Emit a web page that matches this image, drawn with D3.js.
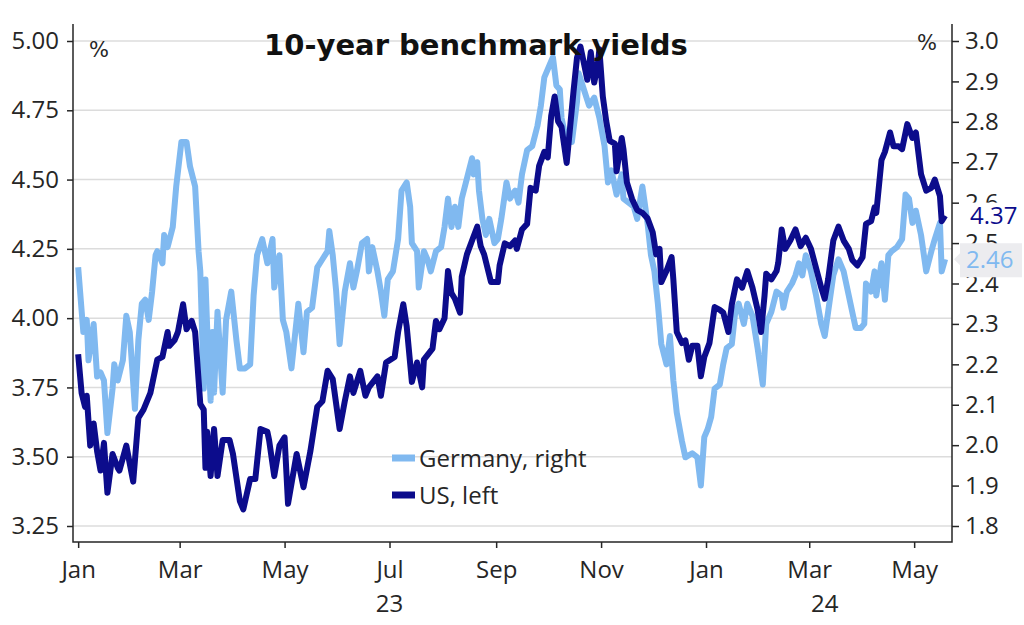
<!DOCTYPE html>
<html>
<head>
<meta charset="utf-8">
<script src="https://cdn.jsdelivr.net/npm/d3@7"></script>
<style>
  body { margin: 0; background: #fff; }
  text { font-family: "Open Sans", sans-serif; }
</style>
</head>
<body>
<svg id="chart" width="1024" height="625"></svg>
<script>
// US 10-year yield, % (left axis)
const usDates = ["2023-01-01","2023-01-03","2023-01-05","2023-01-06","2023-01-08","2023-01-10","2023-01-12","2023-01-14","2023-01-16","2023-01-18","2023-01-21","2023-01-24","2023-01-25","2023-01-29","2023-02-02","2023-02-05","2023-02-08","2023-02-12","2023-02-16","2023-02-19","2023-02-22","2023-02-23","2023-02-26","2023-02-28","2023-03-03","2023-03-05","2023-03-08","2023-03-10","2023-03-13","2023-03-15","2023-03-16","2023-03-17","2023-03-19","2023-03-21","2023-03-23","2023-03-26","2023-03-30","2023-04-01","2023-04-05","2023-04-07","2023-04-11","2023-04-14","2023-04-17","2023-04-21","2023-04-22","2023-04-25","2023-04-28","2023-05-01","2023-05-03","2023-05-08","2023-05-12","2023-05-16","2023-05-20","2023-05-23","2023-05-26","2023-05-29","2023-06-02","2023-06-05","2023-06-08","2023-06-10","2023-06-14","2023-06-17","2023-06-19","2023-06-24","2023-06-26","2023-06-29","2023-07-04","2023-07-06","2023-07-09","2023-07-11","2023-07-14","2023-07-17","2023-07-20","2023-07-21","2023-07-26","2023-07-28","2023-07-30","2023-08-02","2023-08-04","2023-08-06","2023-08-08","2023-08-11","2023-08-12","2023-08-15","2023-08-18","2023-08-21","2023-08-23","2023-08-25","2023-08-29","2023-09-02","2023-09-03","2023-09-06","2023-09-09","2023-09-12","2023-09-13","2023-09-16","2023-09-19","2023-09-21","2023-09-24","2023-09-26","2023-09-29","2023-10-01","2023-10-03","2023-10-05","2023-10-07","2023-10-09","2023-10-12","2023-10-14","2023-10-16","2023-10-18","2023-10-20","2023-10-22","2023-10-24","2023-10-26","2023-10-28","2023-10-30","2023-10-31","2023-11-02","2023-11-04","2023-11-06","2023-11-09","2023-11-10","2023-11-13","2023-11-14","2023-11-16","2023-11-19","2023-11-22","2023-11-25","2023-11-28","2023-12-01","2023-12-03","2023-12-05","2023-12-06","2023-12-09","2023-12-12","2023-12-13","2023-12-15","2023-12-18","2023-12-20","2023-12-22","2023-12-24","2023-12-27","2023-12-29","2023-12-31","2024-01-03","2024-01-06","2024-01-09","2024-01-11","2024-01-14","2024-01-16","2024-01-19","2024-01-22","2024-01-25","2024-01-28","2024-01-31","2024-02-02","2024-02-04","2024-02-05","2024-02-08","2024-02-11","2024-02-12","2024-02-14","2024-02-16","2024-02-19","2024-02-22","2024-02-25","2024-02-28","2024-03-02","2024-03-05","2024-03-08","2024-03-10","2024-03-12","2024-03-15","2024-03-18","2024-03-21","2024-03-24","2024-03-26","2024-03-29","2024-04-01","2024-04-03","2024-04-06","2024-04-08","2024-04-09","2024-04-12","2024-04-14","2024-04-17","2024-04-19","2024-04-22","2024-04-24","2024-04-27","2024-04-30","2024-05-02","2024-05-05","2024-05-08","2024-05-11","2024-05-13","2024-05-16","2024-05-17","2024-05-19"];
const usValues = [3.87,3.73,3.68,3.72,3.54,3.62,3.52,3.45,3.55,3.37,3.51,3.46,3.45,3.54,3.41,3.64,3.67,3.73,3.85,3.86,3.95,3.90,3.92,3.95,4.05,3.96,3.99,3.95,3.69,3.67,3.46,3.59,3.43,3.60,3.43,3.56,3.56,3.51,3.34,3.31,3.42,3.42,3.60,3.59,3.56,3.43,3.54,3.57,3.33,3.51,3.39,3.52,3.68,3.70,3.81,3.78,3.60,3.70,3.79,3.73,3.81,3.72,3.75,3.79,3.72,3.84,3.86,3.95,4.05,3.97,3.77,3.84,3.75,3.85,3.89,3.99,3.96,4.00,4.17,4.09,4.07,4.02,4.15,4.23,4.28,4.33,4.26,4.23,4.13,4.13,4.19,4.27,4.26,4.28,4.25,4.32,4.34,4.47,4.46,4.55,4.60,4.58,4.73,4.80,4.71,4.69,4.56,4.69,4.82,4.94,4.98,4.92,4.86,4.96,4.85,4.91,4.97,4.80,4.71,4.64,4.63,4.53,4.65,4.61,4.49,4.43,4.39,4.38,4.36,4.31,4.23,4.25,4.13,4.17,4.22,4.14,3.95,3.91,3.92,3.85,3.90,3.90,3.79,3.86,3.91,4.04,4.03,4.02,3.95,4.05,4.14,4.11,4.17,4.11,4.03,3.95,4.08,4.16,4.14,4.17,4.20,4.32,4.25,4.28,4.32,4.26,4.29,4.25,4.18,4.11,4.07,4.14,4.28,4.33,4.28,4.25,4.21,4.19,4.22,4.34,4.35,4.40,4.38,4.57,4.60,4.67,4.62,4.62,4.61,4.70,4.65,4.67,4.52,4.46,4.47,4.50,4.44,4.35,4.37];

// Germany 10-year yield, % (right axis)
const deDates = ["2023-01-01","2023-01-04","2023-01-06","2023-01-07","2023-01-10","2023-01-12","2023-01-14","2023-01-16","2023-01-18","2023-01-21","2023-01-22","2023-01-24","2023-01-27","2023-01-29","2023-01-31","2023-02-03","2023-02-05","2023-02-07","2023-02-09","2023-02-11","2023-02-13","2023-02-15","2023-02-16","2023-02-19","2023-02-20","2023-02-22","2023-02-25","2023-02-27","2023-03-02","2023-03-05","2023-03-07","2023-03-10","2023-03-12","2023-03-13","2023-03-15","2023-03-16","2023-03-17","2023-03-19","2023-03-20","2023-03-21","2023-03-23","2023-03-26","2023-03-28","2023-03-31","2023-04-03","2023-04-05","2023-04-08","2023-04-11","2023-04-13","2023-04-15","2023-04-18","2023-04-21","2023-04-24","2023-04-25","2023-04-28","2023-04-30","2023-05-02","2023-05-05","2023-05-09","2023-05-12","2023-05-14","2023-05-17","2023-05-20","2023-05-23","2023-05-26","2023-05-27","2023-05-29","2023-05-31","2023-06-02","2023-06-05","2023-06-08","2023-06-10","2023-06-12","2023-06-15","2023-06-18","2023-06-19","2023-06-21","2023-06-24","2023-06-26","2023-06-28","2023-06-30","2023-07-03","2023-07-06","2023-07-08","2023-07-11","2023-07-13","2023-07-14","2023-07-17","2023-07-18","2023-07-21","2023-07-23","2023-07-25","2023-07-28","2023-07-31","2023-08-02","2023-08-04","2023-08-06","2023-08-08","2023-08-10","2023-08-12","2023-08-15","2023-08-18","2023-08-19","2023-08-21","2023-08-22","2023-08-24","2023-08-26","2023-08-28","2023-08-31","2023-09-02","2023-09-04","2023-09-07","2023-09-09","2023-09-12","2023-09-14","2023-09-16","2023-09-19","2023-09-22","2023-09-25","2023-09-27","2023-09-29","2023-10-02","2023-10-04","2023-10-06","2023-10-08","2023-10-09","2023-10-12","2023-10-14","2023-10-15","2023-10-18","2023-10-19","2023-10-22","2023-10-25","2023-10-28","2023-10-31","2023-11-03","2023-11-05","2023-11-07","2023-11-10","2023-11-13","2023-11-14","2023-11-17","2023-11-20","2023-11-22","2023-11-25","2023-11-28","2023-11-30","2023-12-02","2023-12-04","2023-12-06","2023-12-09","2023-12-11","2023-12-13","2023-12-15","2023-12-18","2023-12-20","2023-12-24","2023-12-27","2023-12-29","2023-12-31","2024-01-02","2024-01-04","2024-01-06","2024-01-09","2024-01-11","2024-01-13","2024-01-16","2024-01-18","2024-01-20","2024-01-23","2024-01-25","2024-01-28","2024-01-31","2024-02-03","2024-02-05","2024-02-08","2024-02-11","2024-02-14","2024-02-15","2024-02-17","2024-02-20","2024-02-22","2024-02-24","2024-02-26","2024-02-28","2024-03-02","2024-03-05","2024-03-08","2024-03-10","2024-03-12","2024-03-15","2024-03-18","2024-03-21","2024-03-24","2024-03-26","2024-03-28","2024-03-31","2024-04-02","2024-04-03","2024-04-06","2024-04-08","2024-04-09","2024-04-12","2024-04-14","2024-04-16","2024-04-18","2024-04-21","2024-04-24","2024-04-26","2024-04-28","2024-04-30","2024-05-02","2024-05-05","2024-05-07","2024-05-08","2024-05-11","2024-05-13","2024-05-16","2024-05-17","2024-05-19"];
const deValues = [2.44,2.28,2.31,2.21,2.30,2.17,2.18,2.16,2.03,2.14,2.20,2.16,2.21,2.32,2.28,2.09,2.26,2.35,2.36,2.31,2.38,2.47,2.48,2.45,2.52,2.49,2.54,2.64,2.75,2.75,2.69,2.64,2.48,2.43,2.14,2.41,2.29,2.11,2.28,2.13,2.33,2.13,2.31,2.38,2.26,2.19,2.19,2.20,2.37,2.47,2.51,2.45,2.51,2.39,2.47,2.31,2.28,2.19,2.35,2.23,2.33,2.34,2.44,2.46,2.48,2.53,2.47,2.38,2.25,2.38,2.45,2.39,2.43,2.50,2.51,2.43,2.49,2.43,2.38,2.32,2.41,2.43,2.51,2.63,2.65,2.59,2.50,2.48,2.39,2.48,2.46,2.43,2.48,2.49,2.54,2.61,2.54,2.59,2.54,2.61,2.66,2.71,2.67,2.70,2.63,2.56,2.52,2.56,2.50,2.51,2.56,2.65,2.61,2.63,2.60,2.67,2.73,2.74,2.79,2.84,2.91,2.94,2.96,2.89,2.88,2.81,2.75,2.78,2.75,2.85,2.92,2.88,2.84,2.86,2.81,2.74,2.65,2.68,2.62,2.67,2.61,2.60,2.59,2.56,2.64,2.55,2.47,2.43,2.35,2.25,2.20,2.27,2.16,2.08,2.01,1.97,1.98,1.97,1.90,2.02,2.04,2.07,2.14,2.15,2.20,2.24,2.25,2.33,2.35,2.30,2.35,2.32,2.24,2.15,2.30,2.33,2.38,2.37,2.34,2.38,2.40,2.42,2.45,2.42,2.47,2.43,2.37,2.30,2.27,2.33,2.42,2.46,2.43,2.37,2.33,2.29,2.29,2.30,2.40,2.38,2.43,2.37,2.45,2.36,2.47,2.48,2.49,2.51,2.62,2.61,2.55,2.58,2.52,2.46,2.43,2.48,2.51,2.55,2.43,2.46];

const leftTicks = [3.25, 3.50, 3.75, 4.00, 4.25, 4.50, 4.75, 5.00];
const rightTicks = [1.8, 1.9, 2.0, 2.1, 2.2, 2.3, 2.4, 2.5, 2.6, 2.7, 2.8, 2.9, 3.0];
const monthTicks = ["2023-01-01","2023-03-01","2023-05-01","2023-07-01","2023-09-01","2023-11-01","2024-01-01","2024-03-01","2024-05-01"];
const yearLabels = [{ at: "2023-07-01", label: "23" }, { at: "2024-03-10", label: "24" }];
const seriesNames = ["Germany, right", "US, left"];

const lightBlue = "#80b9f0", navy = "#0c0c8c", ink = "#262626";
const parse = d3.timeParse("%Y-%m-%d");

const us = usDates.map((d, i) => ({ date: parse(d), value: usValues[i] }));
const de = deDates.map((d, i) => ({ date: parse(d), value: deValues[i] }));

const svg = d3.select("#chart");
const plotLeft = 73, plotRight = 952, plotTop = 24, plotBottom = 542;

const x = d3.scaleTime().domain([parse("2022-12-29"), parse("2024-05-23")]).range([plotLeft, plotRight]);
const yL = d3.scaleLinear().domain([3.25, 5.0]).range([526, 41]);
const yR = d3.scaleLinear().domain([1.8, 3.0]).range([526, 41]);

// grid
svg.append("g").selectAll("line").data(leftTicks).join("line")
  .attr("x1", plotLeft).attr("x2", plotRight)
  .attr("y1", d => yL(d)).attr("y2", d => yL(d))
  .attr("stroke", "#dcdcdc").attr("stroke-width", 1.5);

// frame lines
svg.append("path")
  .attr("d", `M${plotLeft},${plotTop}V${plotBottom}H${plotRight}V${plotTop}`)
  .attr("fill", "none").attr("stroke", ink).attr("stroke-width", 1.5);

function styleAxis(g) {
  g.select(".domain").remove();
  g.selectAll(".tick line").attr("stroke", ink).attr("stroke-width", 1.5);
  g.selectAll(".tick text").attr("fill", ink).style("font-size", "24px")
    .style("font-family", "'Open Sans', sans-serif");
}

svg.append("g").attr("transform", `translate(${plotLeft},0)`)
  .call(d3.axisLeft(yL).tickValues(leftTicks).tickFormat(d3.format(".2f")).tickSize(6).tickPadding(8))
  .call(styleAxis);

svg.append("g").attr("transform", `translate(${plotRight},0)`)
  .call(d3.axisRight(yR).tickValues(rightTicks).tickFormat(d3.format(".1f")).tickSize(7).tickPadding(6))
  .call(styleAxis);

svg.append("g").attr("transform", `translate(0,${plotBottom})`)
  .call(d3.axisBottom(x).tickValues(monthTicks.map(parse)).tickFormat(d3.timeFormat("%b")).tickSize(6).tickPadding(13))
  .call(styleAxis);

svg.append("g").selectAll("text").data(yearLabels).join("text")
  .attr("x", d => x(parse(d.at))).attr("y", 612)
  .attr("text-anchor", "middle").attr("fill", ink)
  .style("font-size", "24px")
  .text(d => d.label);

// series
const lineL = d3.line().x(d => x(d.date)).y(d => yL(d.value));
const lineR = d3.line().x(d => x(d.date)).y(d => yR(d.value));

svg.append("path").datum(de).attr("d", lineR)
  .attr("fill", "none").attr("stroke", lightBlue).attr("stroke-width", 6)
  .attr("stroke-linejoin", "round");
svg.append("path").datum(us).attr("d", lineL)
  .attr("fill", "none").attr("stroke", navy).attr("stroke-width", 6)
  .attr("stroke-linejoin", "round");

// title and units
svg.append("text").attr("x", 476).attr("y", 55).attr("text-anchor", "middle")
  .style("font-family", "'DejaVu Sans', sans-serif").style("font-weight", "bold")
  .style("font-size", "29px").attr("fill", "#111")
  .text("10-year benchmark yields");
svg.append("text").attr("x", 89).attr("y", 57).attr("fill", ink)
  .style("font-family", "'DejaVu Sans', sans-serif")
  .style("font-size", "21px").text("%");
svg.append("text").attr("x", 917).attr("y", 50).attr("fill", ink)
  .style("font-family", "'DejaVu Sans', sans-serif")
  .style("font-size", "21px").text("%");

// legend
const legend = svg.append("g").selectAll("g").data(seriesNames).join("g")
  .attr("transform", (d, i) => `translate(392,${458 + i * 37})`);
legend.append("line").attr("x1", 0).attr("x2", 23)
  .attr("stroke", (d, i) => i === 0 ? lightBlue : navy).attr("stroke-width", 7);
legend.append("text").attr("x", 27).attr("y", 9).attr("fill", ink)
  .style("font-size", "24px").text(d => d);

// end-value labels
const usLast = us[us.length - 1], deLast = de[de.length - 1];
const yUs = yL(usLast.value), yDe = yR(deLast.value);

svg.append("rect").attr("x", 962).attr("y", yUs - 13).attr("width", 60).attr("height", 26).attr("fill", "#fff");
svg.append("text").attr("x", 970).attr("y", yUs + 8).attr("fill", navy)
  .style("font-size", "24px").text(usLast.value.toFixed(2));

svg.append("path")
  .attr("d", `M954,${yDe}L960,${yDe - 6}V${yDe - 16}H1022V${yDe + 18}H960V${yDe + 6}Z`)
  .attr("fill", "#ececef");
svg.append("text").attr("x", 966).attr("y", yDe + 9).attr("fill", lightBlue)
  .style("font-size", "24px").text(deLast.value.toFixed(2));
</script>
</body>
</html>
